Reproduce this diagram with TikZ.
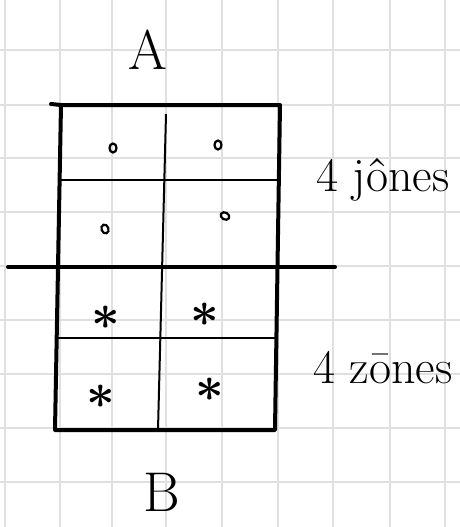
\documentclass[tikz,border=0pt]{standalone}
\usetikzlibrary{shapes.geometric}
\begin{document}
\begin{tikzpicture}[x=0.5pt,y=-0.5pt,
  gridline/.style={draw=black!12, line width=0.6pt},
  frame/.style={line width=2pt, line cap=round, line join=round},
  divider/.style={line width=1pt},
  dotmark/.style={draw, line width=1.1pt, ellipse, inner sep=0pt, minimum width=3.5pt, minimum height=4.5pt},
  starmark/.style={inner sep=0pt, font=\fontsize{40}{40}\selectfont\boldmath},
  label/.style={inner sep=0pt, font=\fontsize{28}{28}\selectfont},
  sidelabel/.style={inner sep=0pt, font=\fontsize{24}{24}\selectfont}]
\useasboundingbox (0,0) rectangle (460,527);
\fill[white] (0,0) rectangle (460,527);
% squared paper
\foreach \gx in {5,60,112,166,222,278,333,390,445}
  \draw[gridline] (\gx,0) -- (\gx,527);
\foreach \gy in {50,105,158,212,266,320,374,428,482}
  \draw[gridline] (0,\gy) -- (460,\gy);
% corners of the frame
\coordinate (tl) at (61,105);
\coordinate (tr) at (280,105);
\coordinate (br) at (275,430);
\coordinate (bl) at (55,430);
\coordinate (tx) at (51,104);
\coordinate (ml) at (8,267);
\coordinate (mr) at (335,267);
\coordinate (vt) at (166,114);
\coordinate (vb) at (158,430);
\coordinate (u1) at (61,180);
\coordinate (u2) at (279,180);
\coordinate (l1) at (58,338);
\coordinate (l2) at (276,338);
% frame and dividers
\draw[frame] (tx) -- (tl) -- (tr) -- (br) -- (bl) -- (tl);
\draw[frame] (ml) -- (mr);
\draw[divider] (vt) -- (vb);
\draw[divider] (u1) -- (u2);
\draw[divider] (l1) -- (l2);
% markers
\node[dotmark] (c1) at (113,148) {};
\node[dotmark] (c2) at (218,145) {};
\node[dotmark, rotate=20] (c3) at (105,229) {};
\node[dotmark, rotate=60] (c4) at (225,216) {};
\node[starmark] (s1) at (106,318) {$\ast$};
\node[starmark] (s2) at (205,315) {$\ast$};
\node[starmark] (s3) at (101,397) {$\ast$};
\node[starmark] (s4) at (210,390) {$\ast$};
% labels
\node[label] (a) at (148,50) {A};
\node[label] (b) at (162,492) {B};
\node[sidelabel] (j) at (383,180) {4 jônes};
\node[sidelabel] (z) at (383,368) {4 zōnes};
\end{tikzpicture}
\end{document}
